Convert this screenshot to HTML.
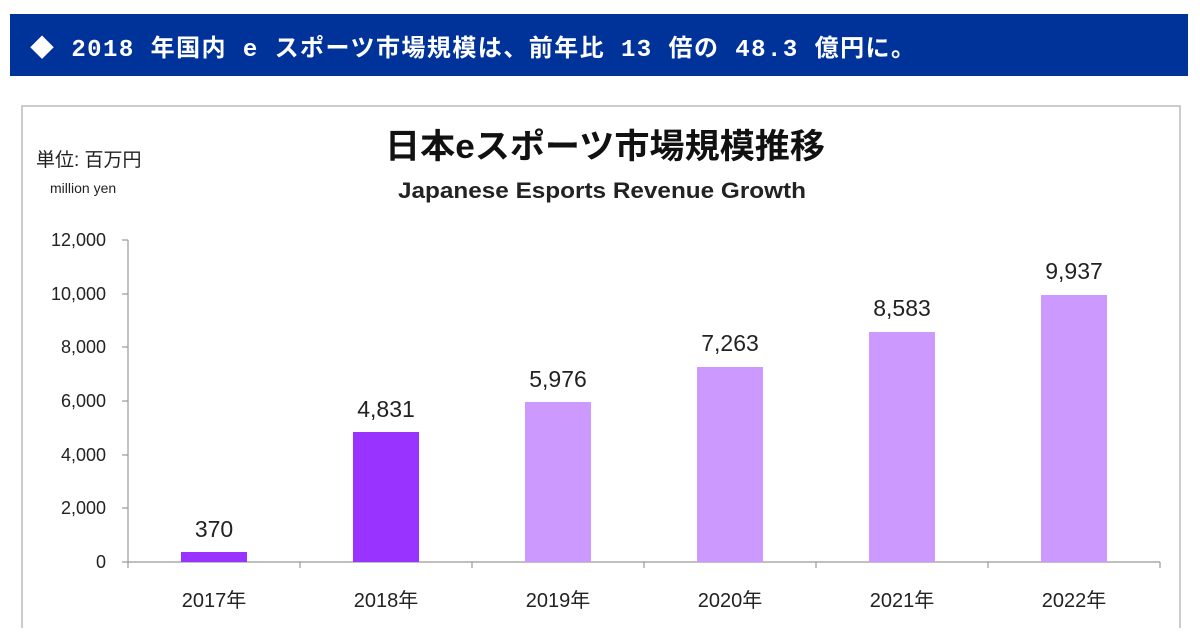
<!DOCTYPE html>
<html><head><meta charset="utf-8"><style>
body{margin:0;width:1200px;height:628px;background:#fff;overflow:hidden;font-family:"Liberation Sans","Noto Sans CJK JP",sans-serif;}
</style></head><body>
<svg width="1200" height="628" xmlns="http://www.w3.org/2000/svg" font-family="Liberation Sans, Noto Sans CJK JP, sans-serif">
<rect x="10" y="14" width="1178" height="62" fill="#003399"/>
<text x="30" y="56" fill="#fff" font-size="24" font-weight="bold" font-family="Liberation Mono, Noto Sans CJK JP, monospace" textLength="885" lengthAdjust="spacing">◆ 2018 年国内 e スポーツ市場規模は、前年比 13 倍の 48.3 億円に。</text>
<rect x="22" y="106" width="1158" height="540" fill="#fff" stroke="#bbb" stroke-width="1.5"/>
<text x="36" y="166" font-size="19" fill="#222">単位: 百万円</text>
<text x="50" y="193" font-size="14" fill="#222">million yen</text>
<text x="605" y="158" font-size="34" font-weight="bold" text-anchor="middle" fill="#111" textLength="440" lengthAdjust="spacingAndGlyphs">日本eスポーツ市場規模推移</text>
<text x="602" y="198" font-size="22" font-weight="bold" text-anchor="middle" fill="#222" textLength="408" lengthAdjust="spacingAndGlyphs">Japanese Esports Revenue Growth</text>
<g font-size="18" fill="#222" text-anchor="end">
<text x="106" y="568">0</text><text x="106" y="514">2,000</text><text x="106" y="461">4,000</text><text x="106" y="407">6,000</text><text x="106" y="353">8,000</text><text x="106" y="300">10,000</text><text x="106" y="246">12,000</text>
</g>
<g stroke="#999" stroke-width="1.2">
<line x1="128" y1="240" x2="128" y2="568"/>
<line x1="122" y1="240" x2="128" y2="240"/><line x1="122" y1="294" x2="128" y2="294"/><line x1="122" y1="347" x2="128" y2="347"/><line x1="122" y1="401" x2="128" y2="401"/><line x1="122" y1="455" x2="128" y2="455"/><line x1="122" y1="508" x2="128" y2="508"/>
<line x1="122" y1="562" x2="1160" y2="562"/>
<line x1="300" y1="562" x2="300" y2="568"/><line x1="472" y1="562" x2="472" y2="568"/><line x1="644" y1="562" x2="644" y2="568"/><line x1="816" y1="562" x2="816" y2="568"/><line x1="988" y1="562" x2="988" y2="568"/><line x1="1160" y1="562" x2="1160" y2="568"/>
</g>
<rect x="181" y="552" width="66" height="10" fill="#9933ff"/>
<rect x="353" y="432" width="66" height="130" fill="#9933ff"/>
<rect x="525" y="402" width="66" height="160" fill="#cc99ff"/>
<rect x="697" y="367" width="66" height="195" fill="#cc99ff"/>
<rect x="869" y="332" width="66" height="230" fill="#cc99ff"/>
<rect x="1041" y="295" width="66" height="267" fill="#cc99ff"/>
<g font-size="23" fill="#222" text-anchor="middle">
<text x="214" y="537">370</text><text x="386" y="417">4,831</text><text x="558" y="387">5,976</text><text x="730" y="351">7,263</text><text x="902" y="316">8,583</text><text x="1074" y="279">9,937</text>
</g>
<g font-size="20" fill="#222" text-anchor="middle">
<text x="214" y="607">2017年</text><text x="386" y="607">2018年</text><text x="558" y="607">2019年</text><text x="730" y="607">2020年</text><text x="902" y="607">2021年</text><text x="1074" y="607">2022年</text>
</g>
</svg>
</body></html>
